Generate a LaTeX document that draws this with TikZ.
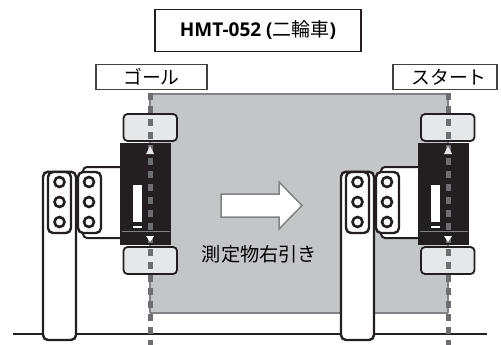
\documentclass[tikz,border=0pt]{standalone}
\usepackage{fontspec}
\setmainfont{Open Sans}
\newfontfamily\cjk{Noto Sans CJK JP}
\definecolor{areagray}{HTML}{C4C5C7}
\definecolor{edgegray}{HTML}{808285}
\definecolor{dashgray}{HTML}{6D6E71}
\definecolor{tiregray}{HTML}{E6E7E8}
\definecolor{inkblack}{HTML}{231F20}
\tikzset{
    labelbox/.style={draw=inkblack!85!white, line width=1.2pt, fill=white, inner sep=0pt, font=\cjk\fontsize{18.8}{20}\selectfont},
    tire/.style={draw=inkblack, line width=1.8pt, fill=tiregray, rounded corners=4pt},
    post/.style={draw=inkblack, line width=2.4pt, fill=white, rounded corners=5pt},
    hole/.style={draw=inkblack, line width=2.6pt, fill=white},
    centerline/.style={dashgray, line width=5pt, dash pattern=on 7pt off 6pt}
}
\begin{document}
\begin{tikzpicture}[x=1pt,y=-1pt]
        \useasboundingbox (0,0) rectangle (501,345);

        \node[draw=inkblack, line width=1.6pt, fill=white, minimum width=206pt, minimum height=42pt, inner sep=0pt] (title) at (258,30.5)
            {\fontsize{19}{20}\selectfont\bfseries HMT-052 ({\cjk\mdseries 二輪車})};

        \fill[areagray] (150,94) rectangle (448,313);
        \draw[edgegray, line width=1.5pt] (150,94) -- (448,94);
        \draw[edgegray, line width=1.5pt] (150,313) -- (448,313);
        \draw[edgegray, line width=1.5pt] (150,94) -- (150,313);
        \draw[edgegray, line width=1.5pt] (448,94) -- (448,313);

        \node[labelbox, minimum width=111pt, minimum height=25pt] (goal) at (151.5,77) {ゴール};
        \node[labelbox, minimum width=104pt, minimum height=25pt] (start) at (445,77) {\hspace{8pt}スタート};

        \draw[edgegray, line width=1.5pt, fill=white] (221,194) -- (279,194) -- (279,182) -- (302,205.5) -- (279,229) -- (279,217) -- (221,217) -- cycle;
        \node[inner sep=0pt, font=\cjk\fontsize{19.2}{20}\selectfont] (pull) at (259.5,254) {測定物右引き};

        \draw[inkblack, line width=2pt] (13,333.7) -- (487,333.7);

        % left side
        \draw[post] (43,300) -- (43,171.7) -- (76,171.7) -- (76,340) -- (43,340) -- (43,300);
        \draw[inkblack, line width=2pt, fill=white, rounded corners=4pt] (125,167) -- (83,167) -- (83,238) -- (125,238);
        \draw[post] (48,172) rectangle (71,233);
        \draw[post] (78,172) rectangle (101,233);
        \draw[hole] (59.5,182) circle (5pt);
        \draw[hole] (59.5,202) circle (5pt);
        \draw[hole] (59.5,222) circle (5pt);
        \draw[hole] (89,182) circle (5pt);
        \draw[hole] (89,202) circle (5pt);
        \draw[hole] (89,222) circle (5pt);
        \fill[inkblack] (120,143) rectangle (171,245);
        \fill[white] (133,185) rectangle (142,222);
        \fill[white] (133,226) rectangle (142,228);
        \draw[edgegray, line width=0.7pt] (122,231) -- (170,231);
        \draw[tire] (123.5,114) rectangle (177,141);
        \draw[tire] (123.5,247) rectangle (177,274);
        \draw[centerline] (150,93) -- (150,345);
        \fill[tiregray] (150,146) -- (154,154) -- (146,154) -- cycle;
        \fill[white] (146,236) -- (154,236) -- (150,242) -- cycle;

        % right side
        \draw[post] (341,300) -- (341,171.7) -- (374,171.7) -- (374,340) -- (341,340) -- (341,300);
        \draw[inkblack, line width=2pt, fill=white, rounded corners=4pt] (423,167) -- (381,167) -- (381,238) -- (423,238);
        \draw[post] (346,172) rectangle (369,233);
        \draw[post] (376,172) rectangle (399,233);
        \draw[hole] (357.5,182) circle (5pt);
        \draw[hole] (357.5,202) circle (5pt);
        \draw[hole] (357.5,222) circle (5pt);
        \draw[hole] (387,182) circle (5pt);
        \draw[hole] (387,202) circle (5pt);
        \draw[hole] (387,222) circle (5pt);
        \fill[inkblack] (417.5,143) rectangle (468.5,245);
        \fill[white] (430.5,185) rectangle (439.5,222);
        \fill[white] (430.5,226) rectangle (439.5,228);
        \draw[edgegray, line width=0.7pt] (419.5,231) -- (467.5,231);
        \draw[tire] (421,114) rectangle (474.5,141);
        \draw[tire] (421,247) rectangle (474.5,274);
        \draw[centerline] (448,93) -- (448,345);
        \fill[tiregray] (448,146) -- (452,154) -- (444,154) -- cycle;
        \fill[white] (444,236) -- (452,236) -- (448,242) -- cycle;

    \end{tikzpicture}
\end{document}
